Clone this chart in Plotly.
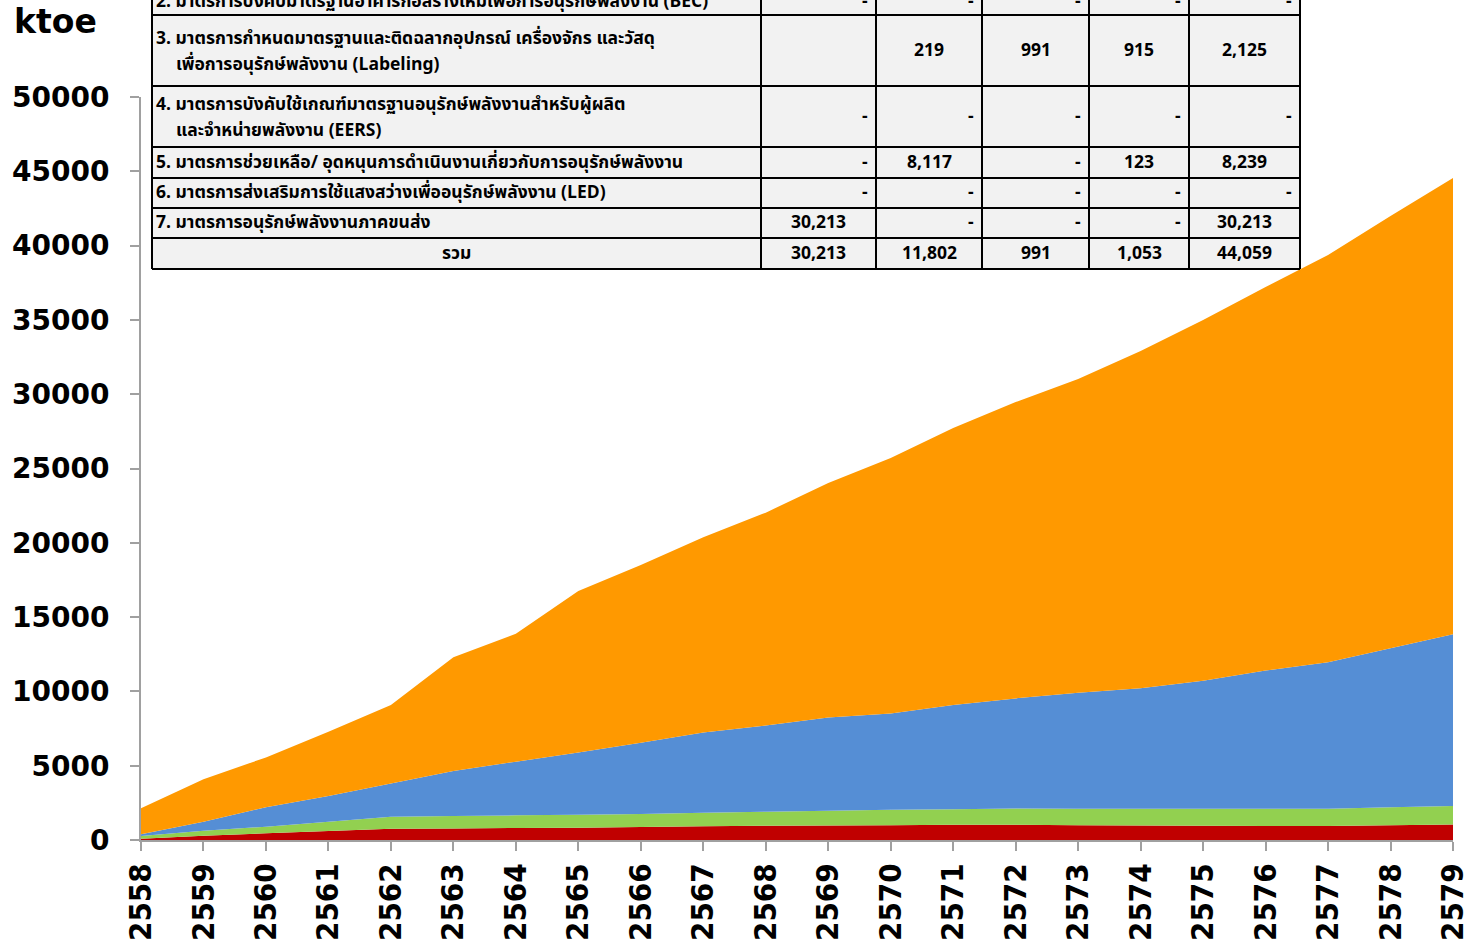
import plotly.graph_objects as go

# ---------------- data ----------------
years = list(range(2558, 2580))

# individual (non-cumulative) series values, ktoe
red_vals = [90, 290, 450, 600, 760, 780, 810, 830, 880, 920, 960, 980, 1000, 1020, 1030, 1000, 980, 960, 950, 940, 1000, 1050]
green_vals = [180, 340, 450, 630, 810, 835, 850, 870, 870, 910, 940, 980, 1030, 1050, 1090, 1100, 1120, 1140, 1150, 1170, 1200, 1240]
blue_vals = [110, 600, 1300, 1730, 2240, 3025, 3610, 4180, 4800, 5400, 5800, 6290, 6490, 7010, 7410, 7810, 8110, 8620, 9300, 9850, 10700, 11560]
orange_vals = [1750, 2850, 3360, 4330, 5270, 7650, 8610, 10880, 11950, 13140, 14330, 15770, 17180, 18640, 19940, 21110, 22690, 24270, 25810, 27410, 29090, 30700]

series_names = ["Series 1", "Series 2", "Series 3", "Series 4"]
series_colors = ["#C00000", "#92D050", "#558ED5", "#FF9900"]

y_ticks = [0, 5000, 10000, 15000, 20000, 25000, 30000, 35000, 40000, 45000, 50000]

# table content
table_labels = [
    ["2. มาตรการบังคับมาตรฐานอาคารก่อสร้างใหม่เพื่อการอนุรักษ์พลังงาน (BEC)"],
    ["3. มาตรการกำหนดมาตรฐานและติดฉลากอุปกรณ์ เครื่องจักร และวัสดุ", "เพื่อการอนุรักษ์พลังงาน (Labeling)"],
    ["4. มาตรการบังคับใช้เกณฑ์มาตรฐานอนุรักษ์พลังงานสำหรับผู้ผลิต", "และจำหน่ายพลังงาน (EERS)"],
    ["5. มาตรการช่วยเหลือ/ อุดหนุนการดำเนินงานเกี่ยวกับการอนุรักษ์พลังงาน"],
    ["6. มาตรการส่งเสริมการใช้แสงสว่างเพื่ออนุรักษ์พลังงาน (LED)"],
    ["7. มาตรการอนุรักษ์พลังงานภาคขนส่ง"],
    ["รวม"],
]
table_values = [
    ["-", "-", "-", "-", "-"],
    ["", "219", "991", "915", "2,125"],
    ["-", "-", "-", "-", "-"],
    ["-", "8,117", "-", "123", "8,239"],
    ["-", "-", "-", "-", "-"],
    ["30,213", "-", "-", "-", "30,213"],
    ["30,213", "11,802", "991", "1,053", "44,059"],
]

# ---------------- layout geometry (page pixels) ----------------
W, H = 1468, 943
PL, PR, PT, PB = 141, 1453, 97, 840  # plot area in page pixels


def px(x):
    return (x - PL) / (PR - PL)


def py(y):
    return (PB - y) / (PB - PT)


fig = go.Figure()
for name, vals, col in zip(series_names, [red_vals, green_vals, blue_vals, orange_vals], series_colors):
    fig.add_trace(go.Scatter(
        x=years, y=vals, name=name, stackgroup="one", mode="none",
        fillcolor=col, line=dict(width=0), hoverinfo="x+y",
    ))

shapes = []
annotations = []

# table geometry (page pixels)
col_x = [152, 761, 876, 982, 1089, 1189, 1300]
row_y = [-16, 15, 86, 147, 178, 208, 238, 269]

shapes.append(dict(type="rect", xref="paper", yref="paper",
                   x0=px(col_x[0]), x1=px(col_x[-1]), y0=py(row_y[-1]), y1=py(row_y[0]),
                   fillcolor="#F2F2F2", line=dict(width=0), layer="above"))
for xx in col_x:
    shapes.append(dict(type="line", xref="paper", yref="paper",
                       x0=px(xx), x1=px(xx), y0=py(row_y[-1]), y1=py(row_y[0]),
                       line=dict(color="black", width=2), layer="above"))
for yy in row_y:
    shapes.append(dict(type="line", xref="paper", yref="paper",
                       x0=px(col_x[0]), x1=px(col_x[-1]), y0=py(yy), y1=py(yy),
                       line=dict(color="black", width=2), layer="above"))

tfont = dict(family="Tahoma, 'Noto Sans Thai', 'Noto Sans', 'DejaVu Sans Condensed', sans-serif",
             size=17.5, color="black", weight="bold")

for r, labels in enumerate(table_labels):
    top, bot = row_y[r], row_y[r + 1]
    mid = (top + bot) / 2
    if r == 0:
        mid = 1
    if r == len(table_labels) - 1:
        annotations.append(dict(x=px((col_x[0] + col_x[1]) / 2), y=py(mid), xref="paper", yref="paper",
                                text=labels[0], showarrow=False, xanchor="center", yanchor="middle", font=tfont))
    elif len(labels) == 1:
        annotations.append(dict(x=px(154), y=py(mid), xref="paper", yref="paper",
                                text=labels[0], showarrow=False, xanchor="left", yanchor="middle", font=tfont))
    else:
        annotations.append(dict(x=px(154), y=py(mid - 12), xref="paper", yref="paper",
                                text=labels[0], showarrow=False, xanchor="left", yanchor="middle", font=tfont))
        annotations.append(dict(x=px(174), y=py(mid + 14), xref="paper", yref="paper",
                                text=labels[1], showarrow=False, xanchor="left", yanchor="middle", font=tfont))
    for c, v in enumerate(table_values[r]):
        if v == "":
            continue
        x0, x1 = col_x[c + 1], col_x[c + 2]
        if v == "-":
            annotations.append(dict(x=px(x1 - 6), y=py(mid), xref="paper", yref="paper",
                                    text=v, showarrow=False, xanchor="right", yanchor="middle", font=tfont))
        else:
            annotations.append(dict(x=px((x0 + x1) / 2), y=py(mid), xref="paper", yref="paper",
                                    text=v, showarrow=False, xanchor="center", yanchor="middle", font=tfont))

# unit label
annotations.append(dict(x=px(12), y=py(22), xref="paper", yref="paper", text="ktoe", showarrow=False,
                        xanchor="left", yanchor="middle",
                        font=dict(family="DejaVu Sans", size=33, color="black", weight="bold")))

fig.update_layout(
    width=W, height=H,
    margin=dict(l=PL, r=W - PR, t=PT, b=H - PB, pad=0),
    paper_bgcolor="white", plot_bgcolor="white",
    showlegend=False,
    shapes=shapes,
    annotations=annotations,
    xaxis=dict(
        range=[years[0], years[-1]], tickvals=years, ticktext=[str(y) for y in years],
        tickangle=-90, ticks="outside", ticklen=9, tickcolor="#A0A0A0", tickwidth=2,
        showline=True, linecolor="#A0A0A0", linewidth=2, showgrid=False, zeroline=False,
        automargin=False, ticklabeloverflow="allow",
        tickfont=dict(family="DejaVu Sans Condensed, DejaVu Sans", size=31, color="black", weight="bold"),
    ),
    yaxis=dict(
        range=[0, 50000], tickvals=y_ticks, tickformat="d",
        ticks="outside", ticklen=9, tickcolor="#A0A0A0", tickwidth=2,
        showline=True, linecolor="#A0A0A0", linewidth=2, showgrid=False, zeroline=False,
        automargin=False, ticklabeloverflow="allow",
        ticklabelstandoff=15,
        tickfont=dict(family="DejaVu Sans", size=28, color="black", weight="bold"),
    ),
)

fig.write_html(
    "out.html",
    config={"responsive": False, "displayModeBar": False},
    post_script="document.body.style.margin='0';document.body.style.overflow='hidden';",
)
